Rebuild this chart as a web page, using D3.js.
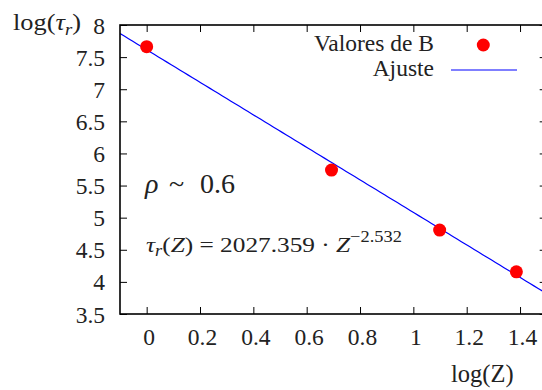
<!DOCTYPE html>
<html>
<head>
<meta charset="utf-8">
<script src="https://cdn.jsdelivr.net/npm/d3@7"></script>
<style>
  html, body { margin: 0; padding: 0; background: #fff; }
  svg text { font-family: "Liberation Serif", "Times New Roman", serif; }
</style>
</head>
<body>
<svg id="chart" width="542" height="390"></svg>
<script>
// Measured points: log(Z) vs log(tau_r)
const logZ = [Math.log(1), Math.log(2), Math.log(3), Math.log(4)];
const logTau = [7.662, 5.741, 4.807, 4.157];

// Power-law fit tau_r(Z) = A * Z^b
const fitA = 2027.359;
const fitB = -2.532;

const xTicks = [0, 0.2, 0.4, 0.6, 0.8, 1, 1.2, 1.4];
const xTickLabels = ["0", "0.2", "0.4", "0.6", "0.8", "1", "1.2", "1.4"];
const yTicks = [3.5, 4, 4.5, 5, 5.5, 6, 6.5, 7, 7.5, 8];
const yTickLabels = ["3.5", "4", "4.5", "5", "5.5", "6", "6.5", "7", "7.5", "8"];

const serif = '"Liberation Serif", "Times New Roman", serif';
const ink = "#222";
const svg = d3.select("#chart").attr("font-family", serif);
const plotL = 120, plotR = 546.7, plotT = 25, plotB = 314;
const x = d3.scaleLinear().domain([-0.1, 1.5]).range([plotL, plotR]);
const y = d3.scaleLinear().domain([3.5, 8]).range([plotB, plotT]);
const tick = 7;
const fs = 23.5;

// Fit line, clipped to the plot frame
svg.append("clipPath").attr("id", "plotclip")
  .append("rect").attr("x", plotL).attr("y", plotT).attr("width", plotR - plotL).attr("height", plotB - plotT);

const fitPts = d3.range(0, 101).map(i => {
  const lx = -0.1 + i * 1.6 / 100;
  return [lx, Math.log(fitA) + fitB * lx];
});
svg.append("path")
  .datum(fitPts)
  .attr("clip-path", "url(#plotclip)")
  .attr("fill", "none")
  .attr("stroke", "#0000ff")
  .attr("stroke-width", 1.2)
  .attr("d", d3.line().x(d => x(d[0])).y(d => y(d[1])));

// Data points
svg.append("g").selectAll("circle")
  .data(logZ.map((v, i) => [v, logTau[i]]))
  .join("circle")
  .attr("cx", d => x(d[0]))
  .attr("cy", d => y(d[1]))
  .attr("r", 6.5)
  .attr("fill", "#ff0000");

// Axes with inward ticks, mirrored on top/right
const fmtX = d => xTickLabels[xTicks.indexOf(d)];
const fmtY = d => yTickLabels[yTicks.indexOf(d)];

const gx = svg.append("g").attr("transform", `translate(0,${plotB})`)
  .call(d3.axisBottom(x).tickValues(xTicks).tickFormat(fmtX).tickSize(-tick).tickPadding(0));
gx.selectAll("text").attr("dy", null).attr("y", 31).attr("dx", 2);

const gxt = svg.append("g").attr("transform", `translate(0,${plotT})`)
  .call(d3.axisTop(x).tickValues(xTicks).tickFormat("").tickSize(-tick));

const gy = svg.append("g").attr("transform", `translate(${plotL},0)`)
  .call(d3.axisLeft(y).tickValues(yTicks).tickFormat(fmtY).tickSize(-tick).tickPadding(0));
gy.selectAll("text").attr("x", -15).attr("dy", "0.34em");

const gyr = svg.append("g").attr("transform", `translate(${plotR},0)`)
  .call(d3.axisRight(y).tickValues(yTicks).tickFormat("").tickSize(-tick));

[gx, gxt, gy, gyr].forEach(g => {
  g.attr("font-family", serif).attr("font-size", fs);
  g.select(".domain").remove();
  g.selectAll("line").attr("stroke", "#000").attr("stroke-width", 1);
  g.selectAll("text").attr("font-family", serif).attr("font-size", fs).attr("fill", ink);
});

// Frame
svg.append("rect")
  .attr("x", plotL).attr("y", plotT).attr("width", plotR - plotL).attr("height", plotB - plotT)
  .attr("fill", "none").attr("stroke", "#000").attr("stroke-width", 1.6);

function label(px, py, size) {
  return svg.append("text").attr("x", px).attr("y", py)
    .attr("font-family", serif).attr("font-size", size).attr("fill", ink);
}

// Stretch a left-anchored text horizontally so it spans the given width
function fitWidth(sel, width) {
  const w = sel.node().getComputedTextLength();
  const x0 = +sel.attr("x"), y0 = +sel.attr("y");
  const k = width / w;
  sel.attr("transform", `translate(${x0},${y0}) scale(${k},1) translate(${-x0},${-y0})`);
}

// Axis titles
const ylab = label(13, 30, 24);
ylab.append("tspan").text("log(");
ylab.append("tspan").attr("font-style", "italic").text("τ");
ylab.append("tspan").attr("font-style", "italic").attr("font-size", 17).attr("dy", 5).text("r");
ylab.append("tspan").attr("dy", -5).text(")");
fitWidth(ylab, 68);

label(451, 382, 24.5).text("log(Z)");

// Legend
label(434, 51, fs).attr("text-anchor", "end").text("Valores de B");
svg.append("circle").attr("cx", 483.3).attr("cy", 45).attr("r", 6.5).attr("fill", "#ff0000");
label(434, 76, fs).attr("text-anchor", "end").text("Ajuste");
svg.append("line").attr("x1", 451).attr("x2", 517).attr("y1", 70).attr("y2", 70)
  .attr("stroke", "#0000ff").attr("stroke-width", 1.2);

// Annotations
const rho = label(145, 193, 28);
rho.append("tspan").attr("font-style", "italic").text("ρ");
rho.append("tspan").attr("x", 169).text("~");
rho.append("tspan").attr("x", 200).text("0.6");

const eq = label(146, 252, 22);
eq.append("tspan").attr("font-style", "italic").text("τ");
eq.append("tspan").attr("font-style", "italic").attr("font-size", 16).attr("dy", 4).text("r");
eq.append("tspan").attr("dy", -4).text("(");
eq.append("tspan").attr("font-style", "italic").text("Z");
eq.append("tspan").text(") = " + fitA.toFixed(3) + " · ");
eq.append("tspan").attr("font-style", "italic").text("Z");
eq.append("tspan").attr("font-size", 16).attr("dy", -10).text("−" + Math.abs(fitB).toFixed(3));
fitWidth(eq, 256);
</script>
</body>
</html>
